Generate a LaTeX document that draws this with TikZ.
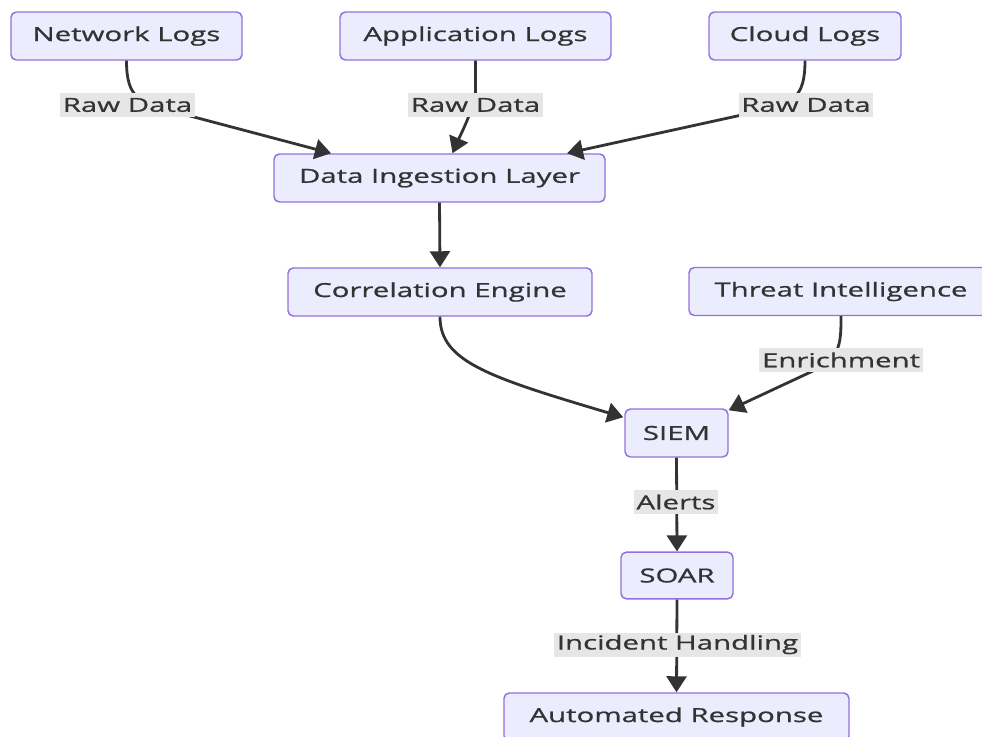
\documentclass[tikz,border=0pt]{standalone}
\usepackage{fontspec}
\setmainfont{Open Sans}[FakeStretch=1.52, FakeBold=0.9]
\usetikzlibrary{arrows.meta,calc}
\definecolor{boxfill}{HTML}{ECECFF}
\definecolor{boxline}{HTML}{9370DB}
\definecolor{ink}{HTML}{333333}
\definecolor{labelbg}{HTML}{E6E6E6}
\tikzset{
  box/.style={draw=boxline, fill=boxfill, line width=1.1pt, rounded corners=4pt,
    text=ink, inner sep=0pt, minimum height=36pt, font=\fontsize{14.5pt}{17pt}\selectfont},
  bw/.style={minimum width=#1*0.75pt},
  edge/.style={draw=ink, line width=2.1pt, -{Triangle[length=12pt,width=15pt]}},
  tag/.style={fill=labelbg, text=ink, inner xsep=2pt, inner ysep=0pt,
    minimum height=18pt, font=\fontsize{14.5pt}{17pt}\selectfont}
}
\begin{document}
\begin{tikzpicture}[x=0.75pt, y=-0.75pt]
\useasboundingbox (0,0) rectangle (982,736);

% sources
\node[box, bw=231] (net)   at (126.5,36) {Network Logs};
\node[box, bw=271] (app)   at (475.5,36) {Application Logs};
\node[box, bw=192] (cloud) at (805,36)   {Cloud Logs};

% pipeline
\node[box, bw=331] (dil)  at (439.5,178) {Data Ingestion Layer};
\node[box, bw=304] (ce)   at (440,292)   {Correlation Engine};
\node[box, bw=304] (ti)   at (841,291.5) {Threat Intelligence};
\node[box, bw=103] (siem) at (676.5,433) {SIEM};
\node[box, bw=112, minimum height=35pt] (soar) at (677,575.5) {SOAR};
\node[box, bw=345] (ar)   at (676.5,717) {Automated Response};

% bend points of the curved connectors
\coordinate (b1) at (175,112);
\coordinate (b3) at (760,111);
\coordinate (b6) at (815,370);

% connectors
\draw[edge] (net.south) .. controls +(0,38) and +(-35,-9) .. (b1)
  -- ($(dil.north)+(-108.5,0)$);
\draw[edge] (app.south) -- ++(0,30) .. controls +(0,15) and +(6,-14) ..
  ($(dil.north)+(13,0)$);
\draw[edge] (cloud.south) .. controls +(0,38) and +(32,-8) .. (b3)
  -- ($(dil.north)+(127.5,0)$);
\draw[edge] (dil.south) -- (ce.north);
\draw[edge] (ce.south) .. controls +(0,45) and +(-134,-40) ..
  ($(siem.north west)+(-1,9)$);
\draw[edge] (ti.south) .. controls +(0,25) and +(26,-12) .. (b6)
  -- ($(siem.north east)+(0,2)$);
\draw[edge] (siem.south) -- (soar.north);
\draw[edge] (soar.south) -- (ar.north);

% connector labels
\node[tag] (t1) at (127.5,105) {Raw Data};
\node[tag] (t2) at (475.5,105) {Raw Data};
\node[tag] (t3) at (806,105)   {Raw Data};
\node[tag] (t4) at (841,360)   {Enrichment};
\node[tag] (t5) at (676,502)   {Alerts};
\node[tag] (t6) at (677.5,644.5) {Incident Handling};
\end{tikzpicture}
\end{document}
